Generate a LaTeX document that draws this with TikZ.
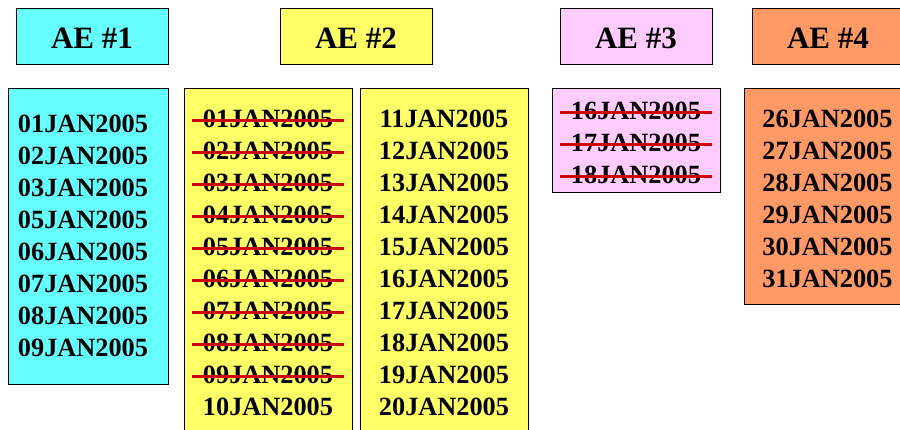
\documentclass[tikz,border=0pt]{standalone}
\usepackage{fontspec}
\setmainfont{Liberation Serif}
\definecolor{aecyan}{HTML}{66FFFF}
\definecolor{aeyellow}{HTML}{FFFF66}
\definecolor{aepink}{HTML}{FFCCFF}
\definecolor{aeorange}{HTML}{FF9966}
\definecolor{strikered}{HTML}{CC0000}
\begin{document}
\begin{tikzpicture}[x=1pt,y=-1pt,
  box/.style={draw=black, line width=1pt, inner sep=0pt, anchor=north west},
  hdrbox/.style={box, minimum width=152pt, minimum height=56pt},
  hdrtext/.style={anchor=base, inner sep=0pt, font=\fontsize{31}{36}\selectfont\bfseries},
  datetext/.style={anchor=base, inner sep=0pt, font=\fontsize{26.3}{32}\selectfont\bfseries},
  strikeline/.style={draw=strikered, line width=3pt}]
\useasboundingbox (0,0) rectangle (900,429);
\clip (0,0) rectangle (900,429);
% header boxes
\node[hdrbox, fill=aecyan] (h1) at (16,8) {};
\node[hdrbox, fill=aeyellow] (h2) at (280,8) {};
\node[hdrbox, fill=aepink] (h3) at (560,8) {};
\node[hdrbox, fill=aeorange] (h4) at (752,8) {};
\node[hdrtext] (h1t) at (92,48) {AE \#1};
\node[hdrtext] (h2t) at (356,48) {AE \#2};
\node[hdrtext] (h3t) at (636,48) {AE \#3};
\node[hdrtext] (h4t) at (828,48) {AE \#4};
% content boxes
\node[box, fill=aecyan, minimum width=160pt, minimum height=296pt] (b1) at (8,88) {};
\node[box, fill=aeyellow, minimum width=168pt, minimum height=360pt] (b2a) at (184,88) {};
\node[box, fill=aeyellow, minimum width=168pt, minimum height=360pt] (b2b) at (360,88) {};
\node[box, fill=aepink, minimum width=168pt, minimum height=104pt] (b3) at (552,88) {};
\node[box, fill=aeorange, minimum width=168pt, minimum height=216pt] (b4) at (744,88) {};
% AE #1 dates
\foreach \d [count=\k from 0] in {01,02,03,05,06,07,08,09}
  \node[datetext] (c\k) at (83,132+32*\k) {\d JAN2005};
% AE #2 dates, first column
\foreach \d [count=\k from 0] in {01,02,03,04,05,06,07,08,09,10}
  \node[datetext] (ya\k) at (268,127+32*\k) {\d JAN2005};
\foreach \k in {0,...,8}
  \draw[strikeline] ([xshift=-11pt,yshift=7pt]ya\k.base west) -- ([xshift=11pt,yshift=7pt]ya\k.base east);
% AE #2 dates, second column
\foreach \d [count=\k from 0] in {11,12,13,14,15,16,17,18,19,20}
  \node[datetext] (yb\k) at (444,127+32*\k) {\d JAN2005};
% AE #3 dates
\foreach \d [count=\k from 0] in {16,17,18}
  \node[datetext] (p\k) at (636,119+32*\k) {\d JAN2005};
\foreach \k in {0,1,2}
  \draw[strikeline] ([xshift=-11pt,yshift=7pt]p\k.base west) -- ([xshift=11pt,yshift=7pt]p\k.base east);
% AE #4 dates
\foreach \d [count=\k from 0] in {26,27,28,29,30,31}
  \node[datetext] (o\k) at (827.5,127+32*\k) {\d JAN2005};
\end{tikzpicture}
\end{document}
